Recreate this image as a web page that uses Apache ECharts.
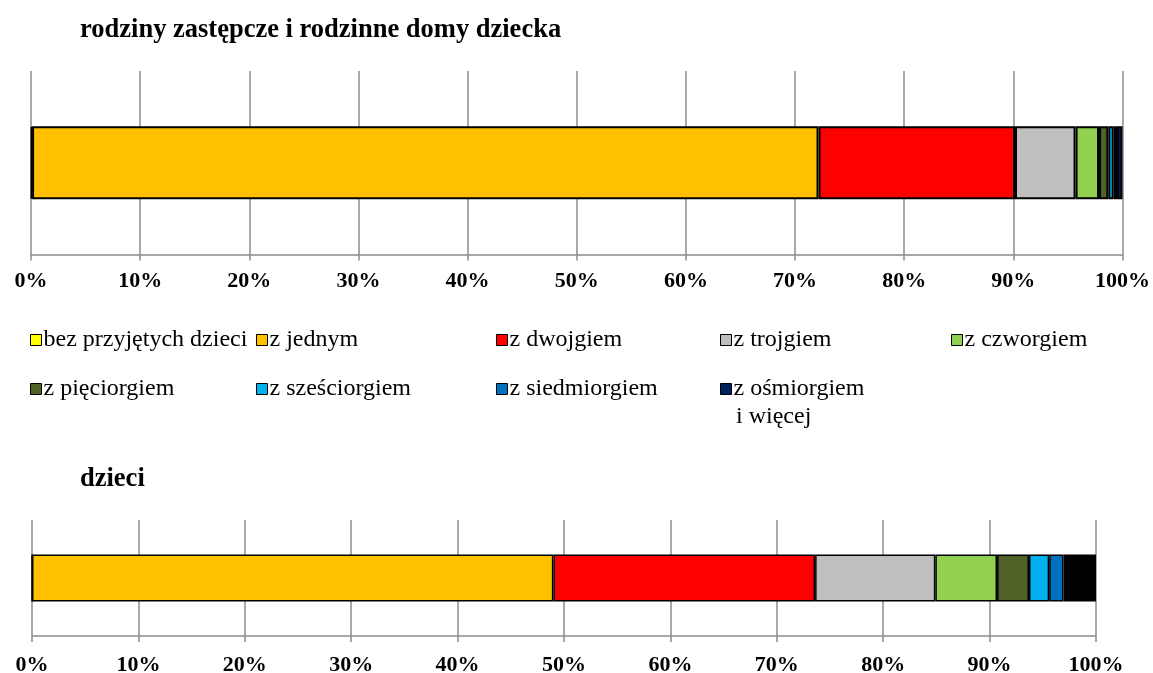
<!DOCTYPE html>
<html>
<head>
<meta charset="utf-8">
<script src="https://cdn.jsdelivr.net/npm/echarts@6/dist/echarts.min.js"></script>
<style>
  html, body { margin: 0; padding: 0; background: #fff; }
  #chart { width: 1153px; height: 673px; }
</style>
</head>
<body>
<div id="chart"></div>
<script>
// ---- data ----
const panelTitles = ['rodziny zastępcze i rodzinne domy dziecka', 'dzieci'];
const seriesNames = ['bez przyjętych dzieci', 'z jednym', 'z dwojgiem', 'z trojgiem', 'z czworgiem',
                     'z pięciorgiem', 'z sześciorgiem', 'z siedmiorgiem', 'z ośmiorgiem i więcej'];
const familiesValues = [0.1, 72.05, 18.0, 5.55, 2.15, 0.85, 0.5, 0.3, 0.5];
const childrenValues = [0, 49.0, 24.6, 11.3, 5.8, 3.0, 1.9, 1.35, 3.05];
const axisMin = 0, axisMax = 100, axisStep = 10;

// ---- styles ----
const FONT = '"Liberation Serif", "Times New Roman", serif';
const colorsTop = ['#FFFF00', '#FFC000', '#FF0000', '#BFBFBF', '#92D050', '#4F6228', '#00B0F0', '#0070C0', '#002060'];
const colorsBottom = ['#FFFF00', '#FFC000', '#FF0000', '#BFBFBF', '#92D050', '#4F6228', '#00B0F0', '#0070C0', '#000000'];
const gridColor = '#8c8c8c';

const chart = echarts.init(document.getElementById('chart'));

function xAxisFor(gridIndex, margin) {
  return {
    type: 'value', gridIndex: gridIndex, min: axisMin, max: axisMax, interval: axisStep,
    axisLine: { show: true, lineStyle: { color: gridColor, width: 1.5 } },
    axisTick: { show: true, length: 6, lineStyle: { color: gridColor, width: 1.5 } },
    splitLine: { show: true, lineStyle: { color: gridColor, width: 1.5 } },
    axisLabel: { formatter: '{value}%', color: '#000', fontFamily: FONT, fontWeight: 'bold', fontSize: 22, margin: margin }
  };
}

const series = [];
seriesNames.forEach((name, i) => {
  series.push({
    name: name, type: 'bar', stack: 'top', xAxisIndex: 0, yAxisIndex: 0,
    barWidth: 73, data: [familiesValues[i]],
    itemStyle: { color: colorsTop[i], borderColor: '#000', borderWidth: 2 },
    emphasis: { disabled: true }, animation: false
  });
});
seriesNames.forEach((name, i) => {
  series.push({
    name: name, type: 'bar', stack: 'bottom', xAxisIndex: 1, yAxisIndex: 1,
    barWidth: 47, data: [childrenValues[i]],
    itemStyle: { color: colorsBottom[i], borderColor: '#000', borderWidth: 1.5 },
    emphasis: { disabled: true }, animation: false
  });
});

const legendPos = [[30, 327], [256, 327], [496, 327], [720, 327], [951, 327],
                   [30, 376], [256, 376], [496, 376], [720, 376]];
const legends = seriesNames.map((name, i) => ({
  data: [name], left: legendPos[i][0], top: legendPos[i][1], padding: 0,
  itemWidth: 11, itemHeight: 11, icon: 'rect', selectedMode: false,
  itemStyle: { borderColor: '#000', borderWidth: 1 },
  formatter: n => n === 'z ośmiorgiem i więcej' ? 'z ośmiorgiem' : n,
  textStyle: { fontFamily: FONT, fontSize: 24, lineHeight: 26, color: '#000', padding: [0, 0, 0, -3] }
}));

chart.setOption({
  backgroundColor: '#fff',
  animation: false,
  title: [
    { text: panelTitles[0], left: 75, top: 12, textStyle: { fontFamily: FONT, fontWeight: 'bold', fontSize: 26.5, color: '#000' } },
    { text: panelTitles[1], left: 75, top: 461, textStyle: { fontFamily: FONT, fontWeight: 'bold', fontSize: 26.5, color: '#000' } }
  ],
  legend: legends,
  graphic: [
    { type: 'text', left: 736, top: 405, style: { text: 'i więcej', fontFamily: FONT, fontSize: 24, fill: '#000' } }
  ],
  grid: [
    { left: 31, width: 1091.5, top: 71, height: 183.5, outerBoundsMode: 'none', containLabel: false },
    { left: 32, width: 1064, top: 520, height: 116, outerBoundsMode: 'none', containLabel: false }
  ],
  xAxis: [xAxisFor(0, 16), xAxisFor(1, 18)],
  yAxis: [
    { type: 'category', gridIndex: 0, data: [panelTitles[0]], show: false },
    { type: 'category', gridIndex: 1, data: [panelTitles[1]], show: false }
  ],
  series: series
});
</script>
</body>
</html>
